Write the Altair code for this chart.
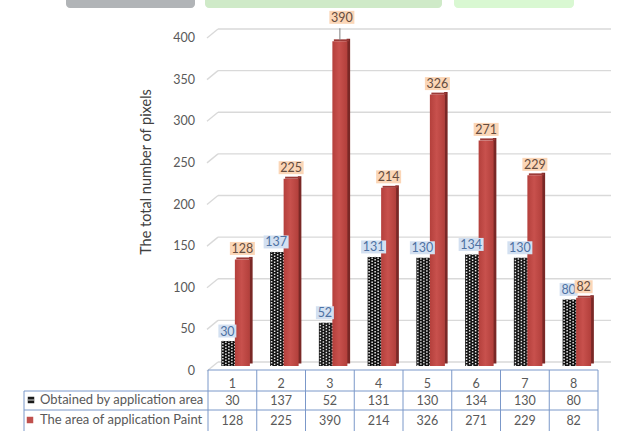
import altair as alt
import pandas as pd

# ---------------- data ----------------
categories = ["1", "2", "3", "4", "5", "6", "7", "8"]
series_names = ["Obtained by application area", "The area of application Paint"]
obtained = [30, 137, 52, 131, 130, 134, 130, 80]
paint = [128, 225, 390, 214, 326, 271, 229, 82]
y_ticks = [0, 50, 100, 150, 200, 250, 300, 350, 400]
y_title = "The total number of pixels"

W, H = 390, 333
FONT = "Lato"

df = pd.DataFrame({"cat": categories, "obtained": obtained, "paint": paint})
ticks_df = pd.DataFrame({"v": y_ticks})

xscale = alt.Scale(domain=categories, paddingInner=0, paddingOuter=0)
yscale = alt.Scale(domain=[0, 400], nice=False, zero=True)
X = alt.X("cat:N", scale=xscale, axis=None)


def Y(field):
    return alt.Y(field, type="quantitative", scale=yscale, axis=None)


base = alt.Chart(df)

# decorative banner pieces at the top (cut off from above)
deco_df = pd.DataFrame({"col": ["#b1b4b7", "#cfeac8", "#d9f8d2"]})
deco = []
for col, x1, x2 in [("#b1b4b7", -142, -13), ("#cfeac8", -3, 234), ("#d9f8d2", 246, 366)]:
    deco.append(
        alt.Chart(deco_df).transform_filter(alt.datum.col == col).mark_rect(
            color=col, cornerRadius=4
        ).encode(x=alt.value(x1), x2=alt.value(x2), y=alt.value(-40), y2=alt.value(-25))
    )

# y-axis labels and title (drawn as text through the y scale)
tick_labels = alt.Chart(ticks_df).mark_text(
    font=FONT, fontSize=12.5, color="#595959", align="right", dy=5
).encode(y=Y("v"), x=alt.value(-13), text="v:Q")
title_df = pd.DataFrame({"t": [y_title]})
y_title_mark = alt.Chart(title_df).mark_text(
    font=FONT, fontSize=14.5, color="#404040", angle=270, align="center", baseline="middle"
).encode(x=alt.value(-61), y=alt.value(139), text="t:N")

# gridlines (back wall) and perspective diagonals
grid_h = alt.Chart(ticks_df).mark_rule(color="#d9d9d9", strokeWidth=1.3, yOffset=-4).encode(
    y=Y("v"), x=alt.value(10), x2=alt.value(403)
)
grid_d = alt.Chart(ticks_df).mark_rule(color="#d9d9d9", strokeWidth=1.3, yOffset=5, y2Offset=-4).encode(
    y=Y("v"), y2="v:Q", x=alt.value(-1), x2=alt.value(10)
)

# black checkered bars
black = base.mark_bar(width=14, xOffset=-4, color="#111111").encode(x=X, y=Y("obtained"))
checks = []
for i, off in enumerate([-9.5, -6.5, -3.5, -0.5, 2.5]):
    checks.append(
        base.mark_rule(
            xOffset=off, color="#e4e4e4", strokeWidth=1.5, strokeDash=[1.5, 1.5],
            strokeDashOffset=(1.5 if i % 2 else 0), yOffset=-1,
        ).encode(x=X, y=Y("obtained"), y2=alt.datum(0))
    )

# red bars with 3D side face
red_side = base.mark_bar(width=3.5, xOffset=18.5, yOffset=-2.5, y2Offset=-2.5, color="#7a2826").encode(
    x=X, y=Y("paint")
)
red_top = base.mark_bar(width=15, xOffset=11.5, yOffset=-2, y2Offset=0, color="#9c3a37").encode(
    x=X, y=Y("paint"), y2=alt.Y2("paint")
)
red_front = base.mark_bar(
    width=15, xOffset=10,
    color=alt.Gradient(
        gradient="linear", x1=0, x2=1, y1=0, y2=0,
        stops=[alt.GradientStop(color="#b4403c", offset=0),
               alt.GradientStop(color="#c8514d", offset=0.45),
               alt.GradientStop(color="#b23f3b", offset=1)],
    ),
).encode(x=X, y=Y("paint"))

RECT3 = "M-1,-0.52H1V0.52H-1Z"
RECT2 = "M-1,-0.72H1V0.72H-1Z"


def label_layers(field, dx, dy, box_col, text_col, flt=None):
    b = base
    if flt is not None:
        b = b.transform_filter(flt)
    b = b.transform_calculate(
        n=f"length(toString(datum.{field}))",
    ).transform_calculate(
        sz="pow(datum.n*7+4, 2)",
        shp=f"datum.n > 2 ? '{RECT3}' : '{RECT2}'",
    )
    box = b.mark_point(filled=True, opacity=1, strokeWidth=0, color=box_col,
                       xOffset=dx, yOffset=dy).encode(
        x=X, y=Y(field), size=alt.Size("sz:Q", scale=None, legend=None),
        shape=alt.Shape("shp:N", scale=None, legend=None),
    )
    txt = b.mark_text(font=FONT, fontSize=12.5, color=text_col, dx=dx, dy=dy + 0.5).encode(
        x=X, y=Y(field), text=alt.Text(f"{field}:Q")
    )
    return [box, txt]


blue_labels = label_layers("obtained", -5, -10, "#d3e0f1", "#4e72a3")
peach_low = label_layers("paint", 10, -11, "#fbd6b7", "#654c3e", alt.datum.paint < 380)
peach_high = label_layers("paint", 12, -24, "#fbd6b7", "#654c3e", alt.datum.paint >= 380)
leader = base.transform_filter(alt.datum.paint >= 380).mark_rule(
    color="#7f7f7f", strokeWidth=1, xOffset=10, yOffset=-1, y2Offset=-13
).encode(x=X, y=Y("paint"), y2="paint:Q")

# ---------------- data table ----------------
LINE = "#7b98c9"
TOP = 370 - 33
R1 = 391 - 33
R2 = 410 - 33
BOT = 440 - 33
LEFT = 24 - 208

one = alt.Chart(ticks_df).transform_filter(alt.datum.v == 0)
tbl_rules = []
for y, x1 in [(TOP, 0), (R1, LEFT), (R2, LEFT)]:
    tbl_rules.append(
        one.mark_rule(color=LINE, strokeWidth=1).encode(
            y=alt.value(y), x=alt.value(x1), x2=alt.value(W)
        )
    )
vlines = base.mark_rule(color=LINE, strokeWidth=1, xOffset=-W / 16).encode(
    x=X, y=alt.value(TOP), y2=alt.value(BOT)
)
vlast = one.mark_rule(color=LINE, strokeWidth=1).encode(
    x=alt.value(W), y=alt.value(TOP), y2=alt.value(BOT)
)
vleft = one.mark_rule(color=LINE, strokeWidth=1).encode(
    x=alt.value(LEFT), y=alt.value(R1), y2=alt.value(BOT)
)

TXT = dict(font=FONT, fontSize=12.5, color="#595959")
t_cat = base.mark_text(**TXT).encode(x=X, y=alt.value(384 - 33), text="cat:N")
t_ob = base.mark_text(**TXT).encode(x=X, y=alt.value(401 - 33), text="obtained:Q")
t_pa = base.mark_text(**TXT).encode(x=X, y=alt.value(421 - 33), text="paint:Q")

leg_df = pd.DataFrame({"name": series_names, "row": [0, 1]})
leg_text0 = alt.Chart(leg_df).transform_filter(alt.datum.row == 0).mark_text(
    align="left", font=FONT, fontSize=13, color="#595959"
).encode(x=alt.value(40 - 208), y=alt.value(400 - 33), text="name:N")
leg_text1 = alt.Chart(leg_df).transform_filter(alt.datum.row == 1).mark_text(
    align="left", font=FONT, fontSize=13, color="#595959"
).encode(x=alt.value(40 - 208), y=alt.value(420 - 33), text="name:N")
leg_icon1 = alt.Chart(leg_df).transform_filter(alt.datum.row == 0).mark_square(
    size=42, color="#1a1a1a", opacity=1
).encode(x=alt.value(31 - 208), y=alt.value(400 - 33))
leg_icon1b = alt.Chart(leg_df).transform_filter(alt.datum.row == 0).mark_rule(
    color="#dddddd", strokeWidth=1
).encode(x=alt.value(28 - 208), x2=alt.value(34 - 208), y=alt.value(400 - 33))
leg_icon2 = alt.Chart(leg_df).transform_filter(alt.datum.row == 1).mark_square(
    size=42, color="#c0504d", opacity=1
).encode(x=alt.value(30 - 208), y=alt.value(420 - 33))

layers = (
    deco + [tick_labels, y_title_mark, grid_h, grid_d, black] + checks
    + [red_side, red_top, red_front]
    + blue_labels + [leader] + peach_low + peach_high
    + tbl_rules + [vlines, vlast, vleft, t_cat, t_ob, t_pa,
                   leg_text0, leg_text1, leg_icon1, leg_icon1b, leg_icon2]
)

chart = alt.layer(*layers).properties(
    width=W, height=H,
    padding={"left": 208, "top": 33, "right": 23, "bottom": 65},
    autosize=alt.AutoSizeParams(type="none"),
    background="white",
).configure_view(stroke=None)

chart.save("out.html", embed_options={"renderer": "svg", "actions": False})
